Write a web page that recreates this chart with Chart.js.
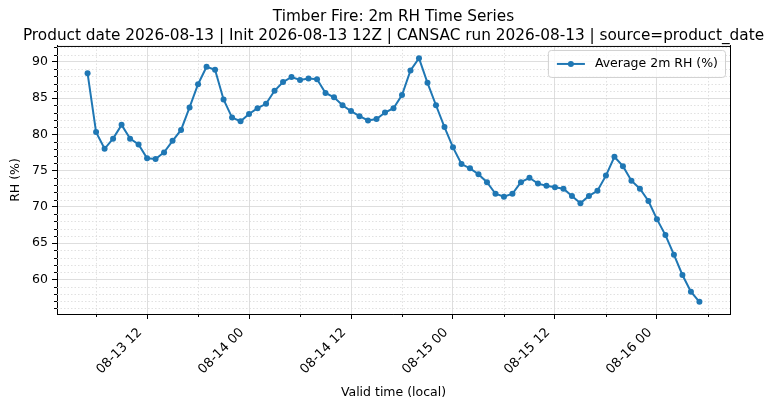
<!DOCTYPE html>
<html>
<head>
<meta charset="utf-8">
<script src="https://cdn.jsdelivr.net/npm/chart.js@4.4.1/dist/chart.umd.min.js"></script>
<style>
  html, body { margin: 0; padding: 0; background: #fff; }
  #grafico { display: block; }
</style>
</head>
<body>
<canvas id="grafico" width="775" height="409"></canvas>
<script>
// Datos (hora local, una medida por hora desde 08-13 05:00)
const diaInicio = 13
const horaInicio = 5
const rhPromedio = [
  88.4, 80.3, 78.0, 79.4, 81.3, 79.4, 78.6, 76.7, 76.6, 77.5,
  79.1, 80.6, 83.7, 86.9, 89.3, 88.9, 84.8, 82.3, 81.8, 82.8,
  83.6, 84.2, 86.0, 87.2, 87.9, 87.5, 87.7, 87.6, 85.7, 85.1,
  84.0, 83.2, 82.5, 81.9, 82.1, 83.0, 83.6, 85.4, 88.8, 90.5,
  87.1, 84.0, 81.0, 78.2, 75.9, 75.3, 74.5, 73.4, 71.8, 71.4,
  71.8, 73.4, 74.0, 73.2, 72.9, 72.7, 72.5, 71.5, 70.5, 71.5,
  72.2, 74.3, 76.9, 75.6, 73.6, 72.5, 70.8, 68.3, 66.1, 63.4,
  60.6, 58.3, 56.9
]
const etiquetasX = ['08-13 12', '08-14 00', '08-14 12', '08-15 00', '08-15 12', '08-16 00']
const etiquetasY = [60, 65, 70, 75, 80, 85, 90]
const nombreSerie = 'Average 2m RH (%)'
const titulo = [
  'Timber Fire: 2m RH Time Series',
  'Product date 2026-08-13 | Init 2026-08-13 12Z | CANSAC run 2026-08-13 | source=product_date'
]

// Auxiliares
const azul = '#1f77b4'
const fuente = 'DejaVu Sans'

// posición (horas desde el inicio) de una etiqueta 'MM-DD HH'
function posicionEtiqueta(etiqueta) {
  const dia = parseInt(etiqueta.slice(3, 5))
  const hora = parseInt(etiqueta.slice(6))
  return (dia - diaInicio) * 24 + hora - horaInicio
}

const puntos = rhPromedio.map((v, i) => ({ x: i, y: v }))
const posX = etiquetasX.map(posicionEtiqueta)

// márgenes automáticos tipo matplotlib (5%)
const spanX = rhPromedio.length - 1
const xMin = -0.05 * spanX
const xMax = spanX + 0.05 * spanX
const yLo = Math.min(...rhPromedio)
const yHi = Math.max(...rhPromedio)
const yMin = yLo - 0.05 * (yHi - yLo)
const yMax = yHi + 0.05 * (yHi - yLo)

// ticks menores: cada 6 h en x, cada 1 en y
const menoresX = []
for (let p = posX[0] - 6; p <= xMax; p += 12) if (p >= xMin) menoresX.push(p)
const menoresY = []
for (let v = Math.ceil(yMin); v <= yMax; v++) if (v % 5 !== 0) menoresY.push(v)

Chart.defaults.font.family = fuente
Chart.defaults.color = '#000'

const extras = {
  id: 'extras',
  beforeDatasetsDraw(chart) {
    const ctx = chart.ctx
    const ca = chart.chartArea
    const sx = chart.scales.x, sy = chart.scales.y
    ctx.save()
    ctx.strokeStyle = '#d9d9d9'
    ctx.lineWidth = 0.8
    ctx.setLineDash([1.5, 2])
    menoresX.forEach(p => {
      const x = Math.round(sx.getPixelForValue(p)) + 0.5
      ctx.beginPath(); ctx.moveTo(x, ca.top); ctx.lineTo(x, ca.bottom); ctx.stroke()
    })
    menoresY.forEach(v => {
      const y = Math.round(sy.getPixelForValue(v)) + 0.5
      ctx.beginPath(); ctx.moveTo(ca.left, y); ctx.lineTo(ca.right, y); ctx.stroke()
    })
    ctx.restore()
  },
  afterDraw(chart) {
    const ctx = chart.ctx
    const ca = chart.chartArea
    const sx = chart.scales.x, sy = chart.scales.y
    ctx.save()
    // marco superior
    ctx.strokeStyle = '#000'
    ctx.lineWidth = 1
    ctx.beginPath(); ctx.moveTo(ca.left, ca.top + 0.5); ctx.lineTo(ca.right, ca.top + 0.5); ctx.stroke()
    // ticks menores
    menoresX.forEach(p => {
      const x = Math.round(sx.getPixelForValue(p)) + 0.5
      ctx.beginPath(); ctx.moveTo(x, ca.bottom); ctx.lineTo(x, ca.bottom + 3); ctx.stroke()
    })
    menoresY.forEach(v => {
      const y = Math.round(sy.getPixelForValue(v)) + 0.5
      ctx.beginPath(); ctx.moveTo(ca.left, y); ctx.lineTo(ca.left - 3, y); ctx.stroke()
    })
    // leyenda
    ctx.font = '12.5px "' + fuente + '"'
    const tw = ctx.measureText(nombreSerie).width
    const w = 9 + 28 + 10 + tw + 7
    const h = 27
    const x0 = ca.right - 5 - w
    const y0 = ca.top + 4
    ctx.beginPath()
    ctx.roundRect(x0 + 0.5, y0 + 0.5, w, h, 3)
    ctx.fillStyle = 'rgba(255,255,255,0.8)'
    ctx.fill()
    ctx.strokeStyle = '#d0d0d0'
    ctx.stroke()
    const ym = y0 + h / 2 + 0.5
    ctx.strokeStyle = azul
    ctx.lineWidth = 2
    ctx.beginPath(); ctx.moveTo(x0 + 9, ym); ctx.lineTo(x0 + 37, ym); ctx.stroke()
    ctx.fillStyle = azul
    ctx.beginPath(); ctx.arc(x0 + 23, ym, 3, 0, Math.PI * 2); ctx.fill()
    ctx.fillStyle = '#000'
    ctx.textBaseline = 'middle'
    ctx.fillText(nombreSerie, x0 + 47, ym)
    ctx.restore()
  }
}

const ctx = document.getElementById('grafico').getContext('2d')
new Chart(ctx, {
  type: 'line',
  data: {
    datasets: [{
      label: nombreSerie,
      data: puntos,
      borderColor: azul,
      backgroundColor: azul,
      borderWidth: 2,
      pointRadius: 3,
      pointHoverRadius: 3,
      pointBorderWidth: 0,
      tension: 0
    }]
  },
  options: {
    responsive: false,
    animation: false,
    layout: { padding: { left: 12, right: 0, top: 0, bottom: 0 } },
    plugins: {
      legend: { display: false },
      tooltip: { enabled: false },
      title: {
        display: true,
        text: titulo,
        color: '#000',
        font: { size: 15.3, weight: 'normal', lineHeight: 1.24 },
        padding: { top: 8, bottom: 0 }
      }
    },
    scales: {
      x: {
        type: 'linear',
        min: xMin,
        max: xMax,
        afterBuildTicks: s => { s.ticks = posX.map(v => ({ value: v })) },
        afterFit: s => { s.height = 95 },
        ticks: {
          autoSkip: false,
          maxRotation: 45,
          minRotation: 45,
          padding: 6,
          labelOffset: -7,
          font: { size: 13 },
          callback: v => etiquetasX[posX.indexOf(v)]
        },
        grid: { color: '#d6d6d6', lineWidth: 0.8, tickColor: '#000', tickLength: 5, tickWidth: 1 },
        border: { display: true, color: '#000', width: 1 },
        title: { display: true, text: 'Valid time (local)', font: { size: 12.5 }, padding: { top: 0, bottom: 9 } }
      },
      y: {
        min: yMin,
        max: yMax,
        afterBuildTicks: s => { s.ticks = etiquetasY.map(v => ({ value: v })) },
        afterFit: s => { s.width = 45 },
        ticks: { padding: 4, font: { size: 12.5 } },
        grid: { color: '#d6d6d6', lineWidth: 0.8, tickColor: '#000', tickLength: 5, tickWidth: 1 },
        border: { display: true, color: '#000', width: 1 },
        title: { display: true, text: 'RH (%)', font: { size: 12.5 }, padding: { top: -3.5, bottom: 0 } }
      },
      derecha: {
        position: 'right',
        display: true,
        afterFit: s => { s.width = 45 },
        ticks: { display: false },
        grid: { display: false, drawTicks: false },
        border: { display: true, color: '#000', width: 1 }
      }
    }
  },
  plugins: [extras]
})
</script>
</body>
</html>
